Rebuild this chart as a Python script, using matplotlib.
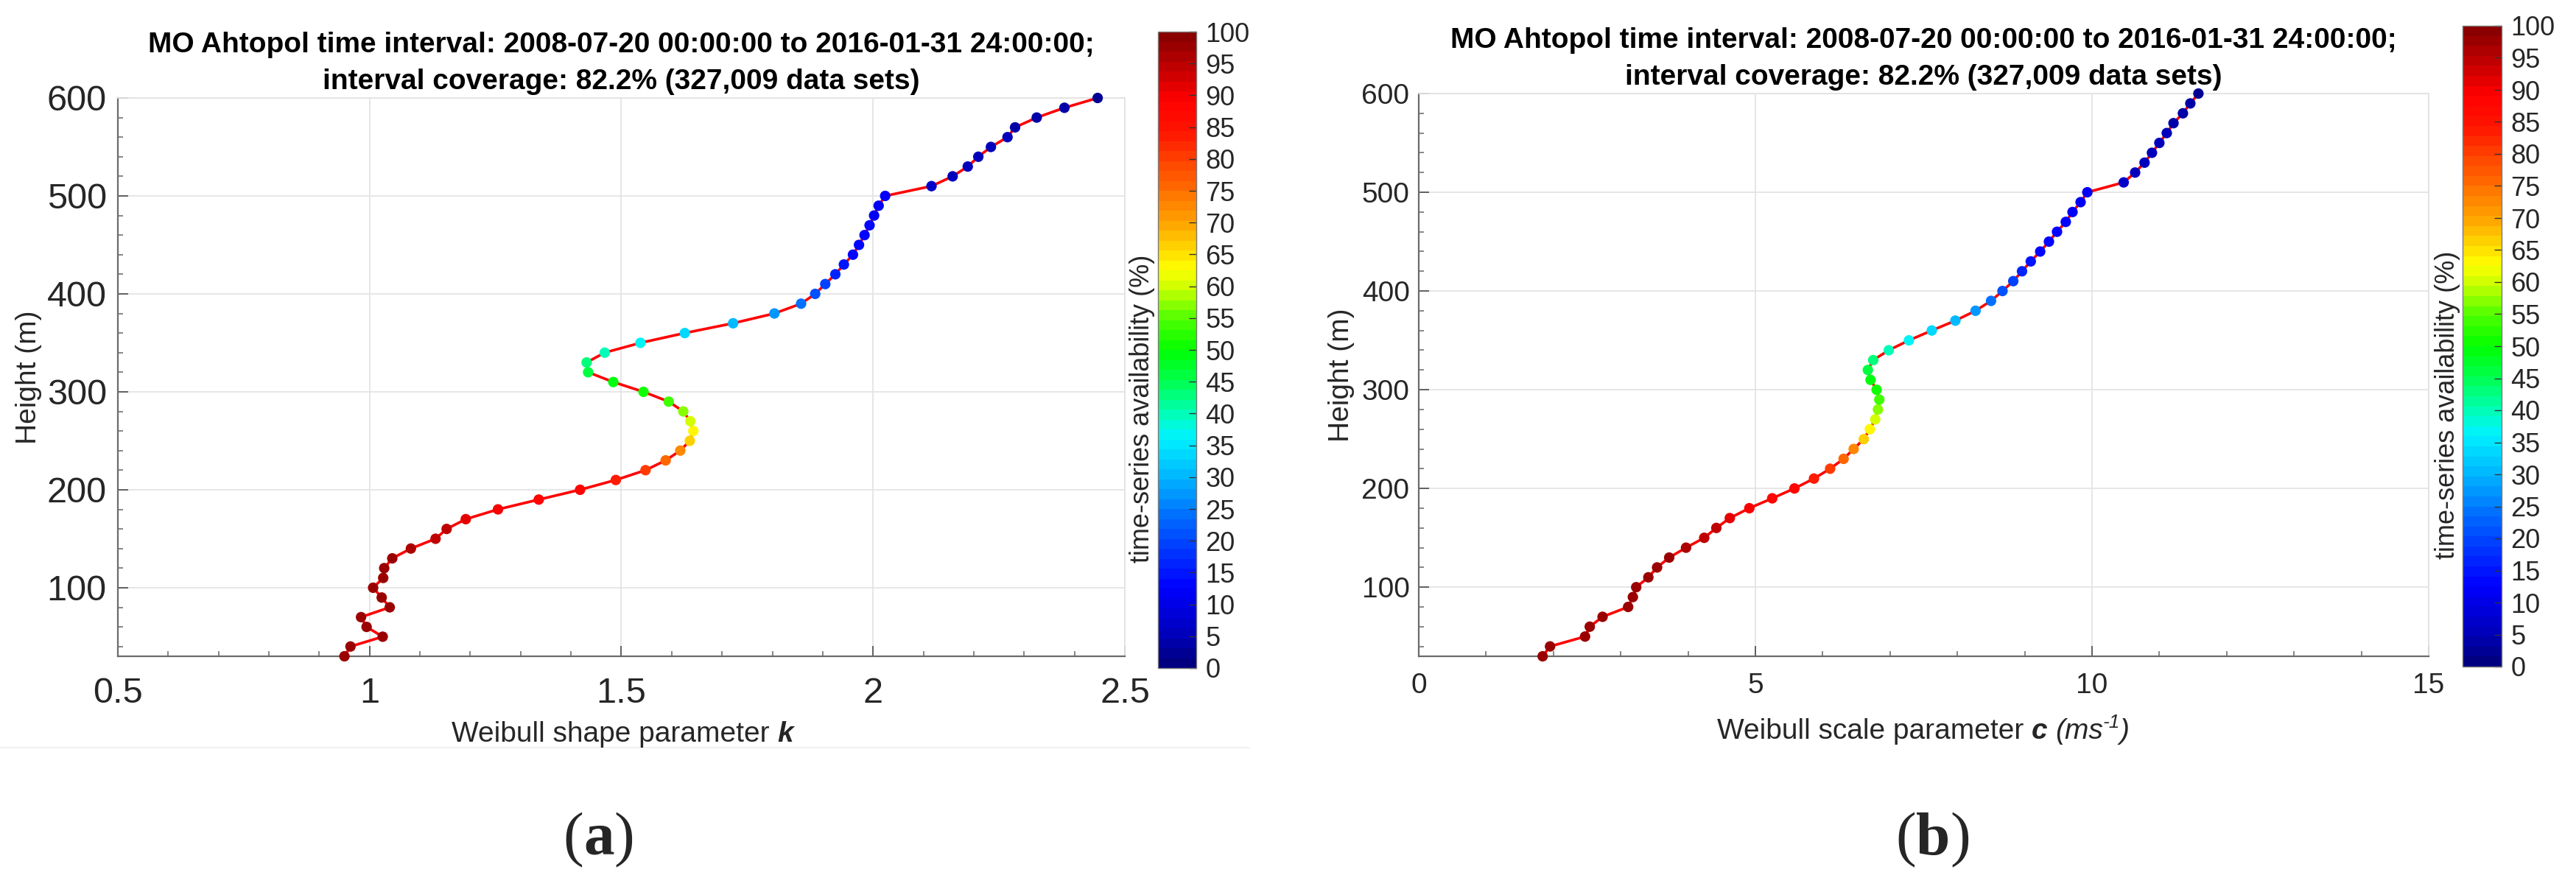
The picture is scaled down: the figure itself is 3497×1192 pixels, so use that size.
import numpy as np
import matplotlib
matplotlib.use("Agg")
import matplotlib.pyplot as plt
from matplotlib.colors import LinearSegmentedColormap, ListedColormap, Normalize
from matplotlib.transforms import IdentityTransform
from matplotlib.ticker import FormatStrFormatter, MultipleLocator
import matplotlib.cm as cm

# ---------------- data ----------------
heights = list(range(30, 610, 10))
k_shape = [0.950, 0.962, 1.026, 0.994, 0.983, 1.040, 1.024, 1.007, 1.027, 1.029,
           1.045, 1.082, 1.131, 1.153, 1.191, 1.255, 1.336, 1.418, 1.489, 1.548,
           1.588, 1.617, 1.636, 1.643, 1.637, 1.623, 1.594, 1.544, 1.484, 1.434,
           1.431, 1.467, 1.538, 1.626, 1.722, 1.804, 1.857, 1.885, 1.905, 1.925,
           1.942, 1.960, 1.972, 1.983, 1.993, 2.002, 2.011, 2.024, 2.116, 2.158,
           2.188, 2.209, 2.234, 2.267, 2.282, 2.325, 2.380, 2.446]
c_scale = [1.84, 1.95, 2.47, 2.54, 2.73, 3.11, 3.18, 3.23, 3.41, 3.54,
           3.72, 3.97, 4.24, 4.42, 4.62, 4.91, 5.25, 5.58, 5.87, 6.11,
           6.31, 6.46, 6.61, 6.70, 6.78, 6.82, 6.84, 6.80, 6.71, 6.67,
           6.75, 6.98, 7.28, 7.62, 7.97, 8.27, 8.50, 8.67, 8.83, 8.96,
           9.09, 9.23, 9.36, 9.48, 9.61, 9.71, 9.83, 9.93, 10.47, 10.64,
           10.78, 10.89, 11.00, 11.11, 11.21, 11.35, 11.46, 11.58]
availability = [97, 97, 97, 97, 97, 97, 97, 97, 97, 97,
                97, 96, 95, 94, 92, 90, 89, 88, 84, 80,
                76, 72, 66, 63, 60, 57, 54, 51, 49, 46,
                43, 40, 37, 34, 31, 28, 24, 21, 19, 16,
                15, 14, 14, 13, 13, 12, 12, 11, 7, 6,
                6, 5, 5, 5, 4, 4, 4, 3]

title_line1 = "MO Ahtopol time interval: 2008-07-20 00:00:00 to 2016-01-31 24:00:00;"
title_line2 = "interval coverage: 82.2% (327,009 data sets)"
k_ticks = [0.5, 1.0, 1.5, 2.0, 2.5]
c_ticks = [0, 5, 10, 15]
h_ticks = [100, 200, 300, 400, 500, 600]
cbar_ticks = list(range(0, 101, 5))
cbar_label = "time-series availability (%)"

# ---------------- style ----------------
plt.rcParams['font.family'] = ['Liberation Sans', 'DejaVu Sans']
W, H = 3498, 1192
DPI = 100
fig = plt.figure(figsize=(W / DPI, H / DPI), dpi=DPI)
fig.patch.set_facecolor('white')

nodes = [
    (0.00, (0.00, 0.00, 0.50)),
    (0.05, (0.00, 0.00, 0.75)),
    (0.12, (0.00, 0.00, 1.00)),
    (0.20, (0.00, 0.30, 1.00)),
    (0.25, (0.00, 0.50, 1.00)),
    (0.30, (0.00, 0.72, 1.00)),
    (0.36, (0.00, 0.95, 1.00)),
    (0.40, (0.00, 1.00, 0.70)),
    (0.45, (0.00, 1.00, 0.30)),
    (0.50, (0.00, 1.00, 0.00)),
    (0.55, (0.30, 1.00, 0.00)),
    (0.60, (0.80, 1.00, 0.00)),
    (0.63, (1.00, 1.00, 0.00)),
    (0.70, (1.00, 0.65, 0.00)),
    (0.75, (1.00, 0.45, 0.00)),
    (0.80, (1.00, 0.28, 0.00)),
    (0.85, (1.00, 0.08, 0.00)),
    (0.90, (1.00, 0.00, 0.00)),
    (0.95, (0.76, 0.00, 0.00)),
    (1.00, (0.54, 0.00, 0.00)),
]
base = LinearSegmentedColormap.from_list('avail', nodes)
cmap = ListedColormap(base(np.linspace(0, 1, 64)))
norm = Normalize(0, 100)

TXT = '#262626'


def rect(x0, x1, ytop, ybot):
    return [x0 / W, 1 - ybot / H, (x1 - x0) / W, (ybot - ytop) / H]


def style_axes(ax, xlim, xticks, xminor, tick_fs, xpad, ypad):
    ax.set_xlim(*xlim)
    ax.set_ylim(30, 600)
    ax.set_xticks(xticks)
    ax.set_yticks(h_ticks)
    ax.xaxis.set_minor_locator(MultipleLocator(xminor))
    ax.yaxis.set_minor_locator(MultipleLocator(20))
    ax.xaxis.set_major_formatter(FormatStrFormatter('%g'))
    ax.grid(True, which='major', color='#e4e4e4', lw=1.3)
    ax.set_axisbelow(True)
    for s in ['top', 'right']:
        ax.spines[s].set_color('#e2e2e2')
        ax.spines[s].set_linewidth(1.3)
    for s in ['left', 'bottom']:
        ax.spines[s].set_color('#6b6b6b')
        ax.spines[s].set_linewidth(1.6)
    ax.tick_params(which='major', direction='in', length=10, width=1.3,
                   color='#555555', labelcolor=TXT, labelsize=tick_fs,
                   top=False, right=False)
    ax.tick_params(which='minor', direction='in', length=5, width=1.1,
                   color='#666666', top=False, right=False)
    ax.tick_params(axis='x', which='major', pad=xpad)
    ax.tick_params(axis='y', which='major', pad=ypad)


def make_panel(ax_rect, cax_rect, xvals, xlim, xticks, xminor, tick_fs, xpad, ypad):
    ax = fig.add_axes(ax_rect)
    ax.plot(xvals, heights, color='red', lw=2.6, zorder=3, clip_on=False)
    ax.scatter(xvals, heights, c=availability, cmap=cmap, norm=norm, s=105,
               edgecolors='none', zorder=4, clip_on=False)
    style_axes(ax, xlim, xticks, xminor, tick_fs, xpad, ypad)
    cax = fig.add_axes(cax_rect)
    sm = cm.ScalarMappable(norm=norm, cmap=cmap)
    cb = fig.colorbar(sm, cax=cax, ticks=cbar_ticks)
    cb.outline.set_edgecolor('#7a7a7a')
    cb.outline.set_linewidth(1.0)
    cax.tick_params(direction='in', length=7, width=1.0, color='#333333',
                    labelsize=26, labelcolor=TXT, pad=9)
    return ax, cax


renderer = fig.canvas.get_renderer()


def rich_text(x_center, y_base, parts):
    """parts: list of (string, props, dy) or a float gap in px; y_base from top."""
    items = []
    total = 0.0
    for p in parts:
        if isinstance(p, (int, float)):
            items.append((None, p, 0))
            total += p
            continue
        s, props, dy = p
        t = fig.text(0, 0, s, transform=IdentityTransform(), ha='left',
                     va='baseline', color=TXT, **props)
        w = t.get_window_extent(renderer).width
        items.append((t, w, dy))
        total += w
    x = x_center - total / 2
    for t, w, dy in items:
        if t is not None:
            t.set_position((x, H - y_base + dy))
        x += w


def title(x_center, top):
    fig.text(x_center, H - (top - 62), title_line1, transform=IdentityTransform(),
             ha='center', va='baseline', fontsize=28, fontweight='bold', color='black')
    fig.text(x_center, H - (top - 12), title_line2, transform=IdentityTransform(),
             ha='center', va='baseline', fontsize=28, fontweight='bold', color='black')


# ---------------- panel (a) ----------------
axL, caxL = make_panel(rect(160, 1527, 133, 891), rect(1572, 1624, 43, 907),
                       k_shape, (0.5, 2.5), k_ticks, 0.1, 35, 20, 11)
title(843.5, 133)
fig.text(39, H - 512, 'Height (m)', transform=IdentityTransform(), rotation=90,
         ha='center', va='center', fontsize=28, color=TXT)
fig.text(1551, H - 555, cbar_label, transform=IdentityTransform(), rotation=90,
         ha='center', va='center', fontsize=26, color=TXT)
rich_text(845, 1007, [("Weibull shape parameter", dict(fontsize=28), 0), 10.5,
                      ("k", dict(fontsize=28, fontweight='bold', fontstyle='italic'), 0)])

# ---------------- panel (b) ----------------
axR, caxR = make_panel(rect(1926, 3297, 127, 891), rect(3343, 3396, 35, 905),
                       c_scale, (0, 15), c_ticks, 1, 28, 16, 9)
title(2611.5, 127)
fig.text(1821, H - 509, 'Height (m)', transform=IdentityTransform(), rotation=90,
         ha='center', va='center', fontsize=28, color=TXT)
fig.text(3322, H - 550, cbar_label, transform=IdentityTransform(), rotation=90,
         ha='center', va='center', fontsize=26, color=TXT)
rich_text(2611, 1003, [("Weibull scale parameter", dict(fontsize=28), 0), 10.5,
                       ("c", dict(fontsize=28, fontweight='bold', fontstyle='italic'), 0), 10.5,
                       ("(ms", dict(fontsize=28, fontstyle='italic'), 0),
                       ("-1", dict(fontsize=19, fontstyle='italic'), 15),
                       (")", dict(fontsize=28, fontstyle='italic'), 0)])

# faint separator under panel (a)
fig.add_artist(plt.Line2D([0, 1696 / W], [1 - 1015 / H, 1 - 1015 / H],
                          transform=fig.transFigure, color='#eeeeee', lw=1.2))

# panel letters
serif = ['Liberation Serif', 'DejaVu Serif']
for xc, letter in [(813, 'a'), (2624, 'b')]:
    rich_text(xc, 1160, [("(", dict(fontsize=60, family=serif), 0),
                         (letter, dict(fontsize=60, family=serif, fontweight='bold'), 0),
                         (")", dict(fontsize=60, family=serif), 0)])

fig.savefig('out.png', dpi=DPI)
